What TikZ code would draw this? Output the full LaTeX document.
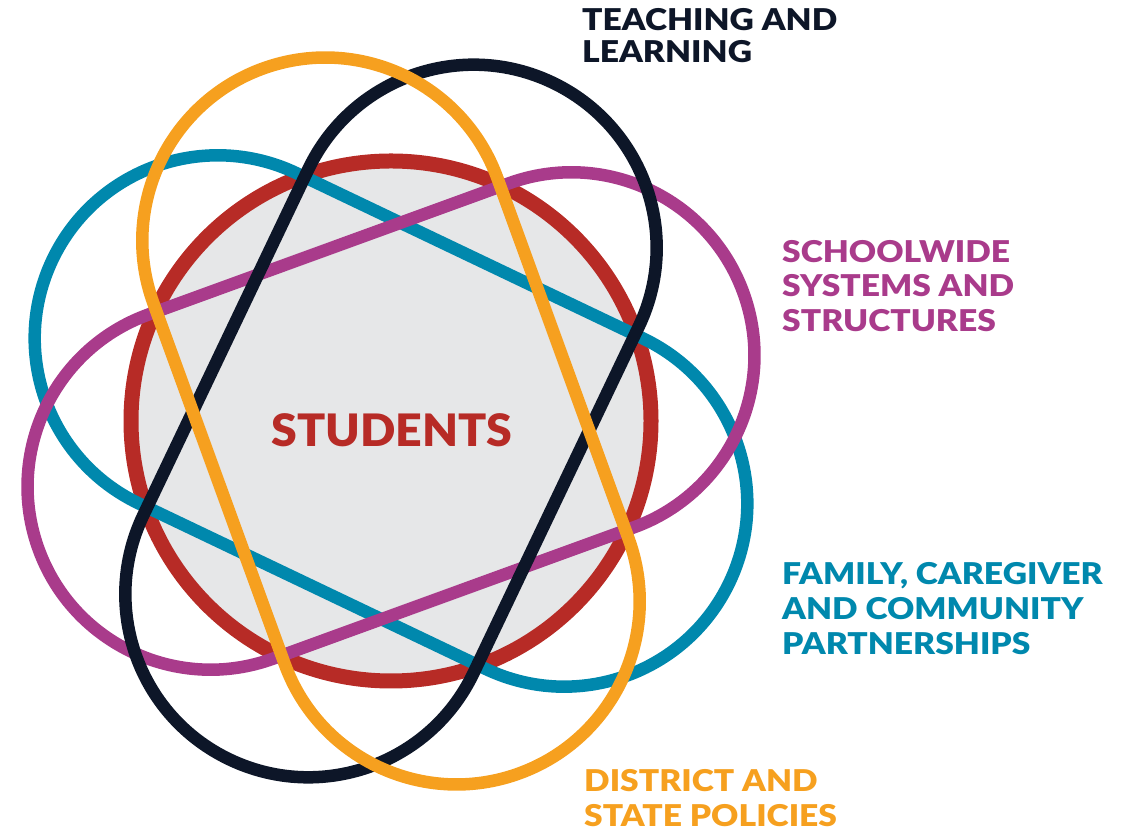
\documentclass[tikz,border=0pt]{standalone}
\usepackage{fontspec}
\setmainfont{Lato}
\newfontfamily\labfont{Lato Black}[FakeStretch=1.12]
\newfontfamily\stufont{Lato Black}[FakeStretch=1.04]
\definecolor{cred}{HTML}{B72B26}
\definecolor{cgray}{HTML}{E6E7E8}
\definecolor{cnavy}{HTML}{0D1628}
\definecolor{corange}{HTML}{F6A01F}
\definecolor{cteal}{HTML}{0088AD}
\definecolor{cpurple}{HTML}{A93B8B}
\tikzset{
  ring/.style={line width=12.5pt},
  lab/.style={anchor=base west, inner sep=0pt, font=\labfont\fontsize{30}{35}\selectfont},
}
\newcommand{\stadium}[3]{% angle, colour, name
  \begin{scope}[shift={(C)}, rotate=#1]
    \draw[ring, draw=#2] (192,-183) arc (-90:90:183) -- (-192,183) arc (90:270:183) -- cycle;
    \coordinate (#3) at (0,0);
  \end{scope}}
\begin{document}
\begin{tikzpicture}[x=1pt,y=1pt]
\useasboundingbox (0,0) rectangle (1135,837);
\coordinate (C) at (391,416);
\node[circle, draw=cred, fill=cgray, line width=15pt, minimum size=520pt, inner sep=0pt] (students) at (C) {};
\stadium{-25.5}{cteal}{sfam}
\stadium{20}{cpurple}{ssch}
\stadium{64.5}{cnavy}{steach}
\stadium{110}{corange}{sdist}
\node[anchor=base, inner sep=0pt, font=\stufont\fontsize{44.7}{50}\selectfont, text=cred] (stu) at (392,390) {STUDENTS};
\node[lab, text=cnavy] (t1) at (582,806) {TEACHING AND};
\node[lab, text=cnavy] (t2) at (582,774) {LEARNING};
\node[lab, text=cpurple] (s1) at (782,574.5) {SCHOOLWIDE};
\node[lab, text=cpurple] (s2) at (782,540) {SYSTEMS AND};
\node[lab, text=cpurple] (s3) at (782,505) {STRUCTURES};
\node[lab, text=cteal] (f1) at (782,252) {FAMILY, CAREGIVER};
\node[lab, text=cteal] (f2) at (782,217) {AND COMMUNITY};
\node[lab, text=cteal] (f3) at (782,182) {PARTNERSHIPS};
\node[lab, text=corange] (d1) at (584,45) {DISTRICT AND};
\node[lab, text=corange] (d2) at (584,10) {STATE POLICIES};
\end{tikzpicture}
\end{document}
